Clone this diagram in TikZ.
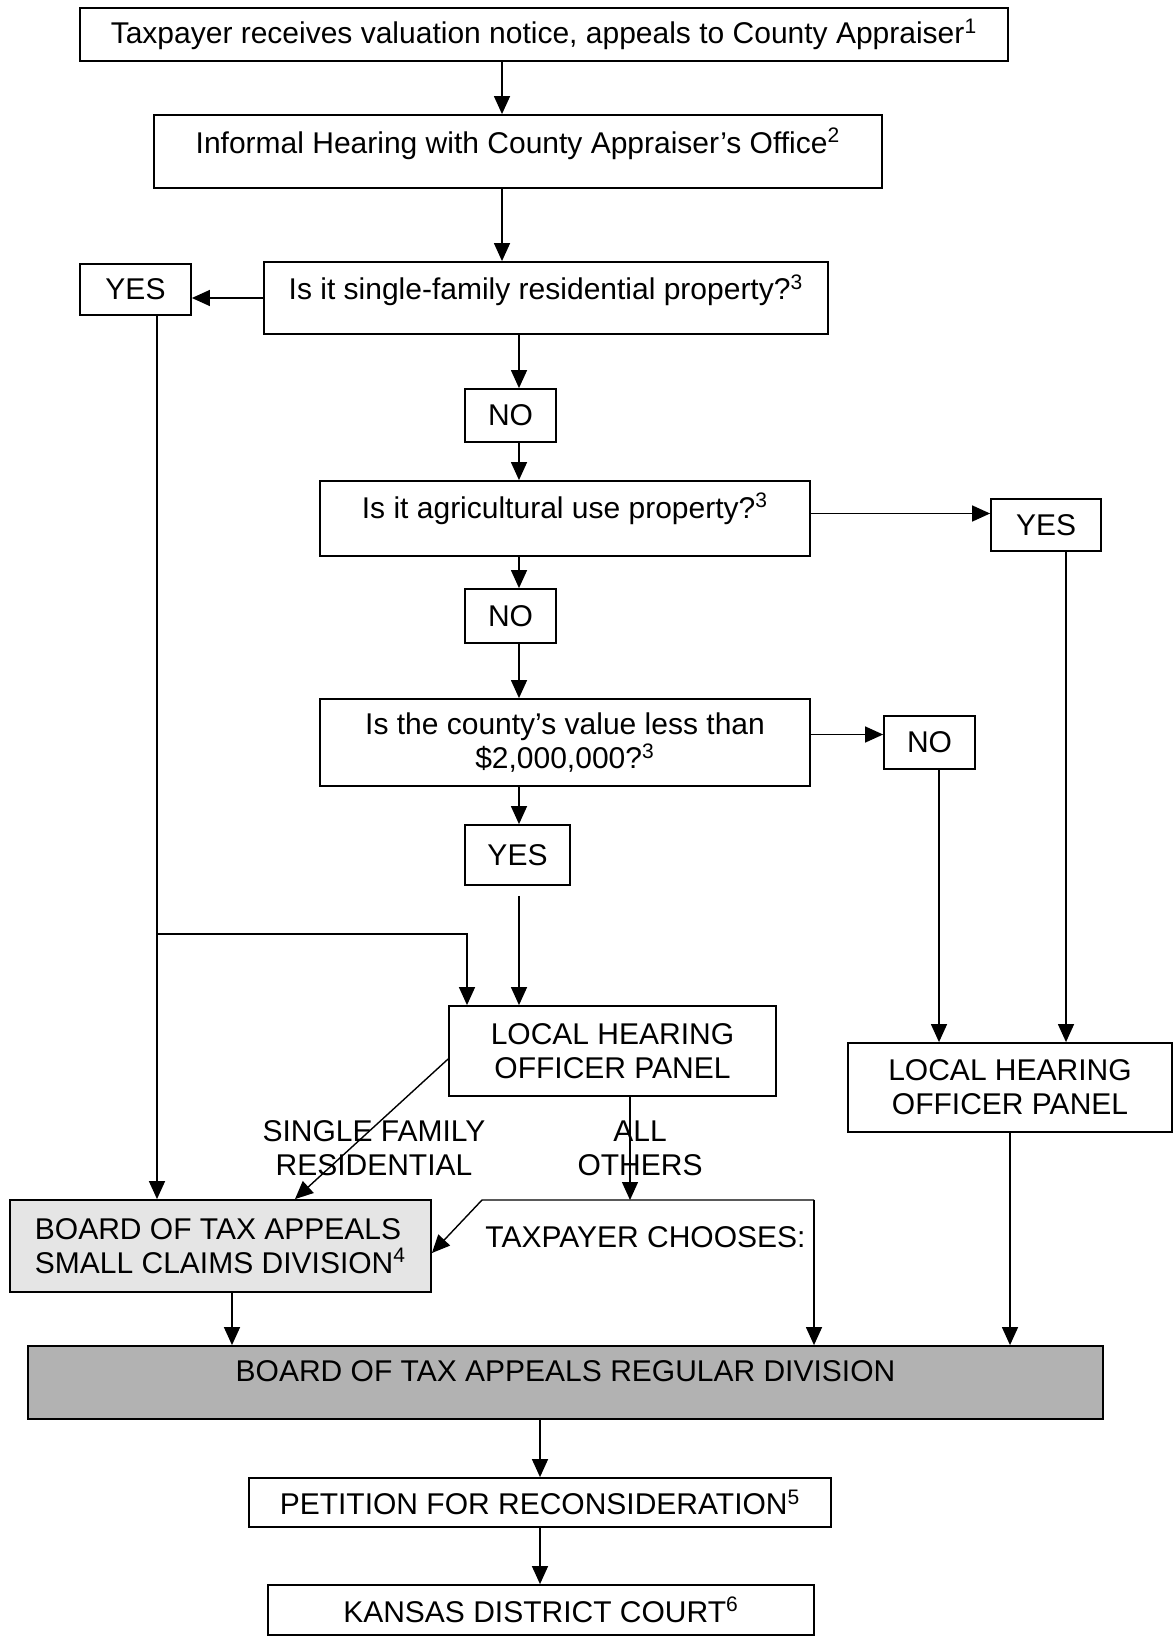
\documentclass[tikz,border=0pt]{standalone}
\usepackage{fontspec}
\setmainfont{Liberation Sans}
\usetikzlibrary{arrows.meta}

\begin{document}
\begin{tikzpicture}[x=0.5pt, y=-0.5pt,
    >={Triangle[length=9pt,width=8pt]},
    box/.style={draw, line width=0.9pt, inner sep=0pt, align=center, font=\fontsize{15}{17}\selectfont},
    raised/.style={text depth=11pt},
    conn/.style={line width=0.7pt, ->},
    lbl/.style={align=center, font=\fontsize{15}{17}\selectfont}]
    % Property valuation appeal route
    \useasboundingbox (0,0) rectangle (1173,1637);
    \node[box, minimum width=464pt, minimum height=26.5pt] (notice) at (544,34.5)
        {Taxpayer receives valuation notice, appeals to County Appraiser\textsuperscript{1}};
    \node[box, raised, minimum width=364pt, minimum height=36.5pt] (informal) at (518,151.5)
        {Informal Hearing with County Appraiser's Office\textsuperscript{2}};
    \node[box, raised, minimum width=282pt, minimum height=36pt] (single) at (546,298)
        {Is it single-family residential property?\textsuperscript{3}};
    \node[box, minimum width=55.5pt, minimum height=25.5pt] (yesA) at (135.5,289.5) {YES};
    \node[box, minimum width=45.5pt, minimum height=26.5pt] (noA) at (510.5,415.5) {NO};
    \node[box, text depth=13pt, minimum width=245pt, minimum height=37.5pt] (agri) at (565,518.5)
        {Is it agricultural use property?\textsuperscript{3}};
    \node[box, minimum width=55pt, minimum height=26pt] (yesB) at (1046,525) {YES};
    \node[box, minimum width=45.5pt, minimum height=27pt] (noB) at (510.5,616) {NO};
    \node[box, minimum width=245pt, minimum height=43.5pt] (value) at (565,742.5)
        {Is the county's value less than\\\$2,000,000?\textsuperscript{3}};
    \node[box, minimum width=45.5pt, minimum height=26.5pt] (noC) at (929.5,742.5) {NO};
    \node[box, minimum width=52.5pt, minimum height=30pt] (yesC) at (517.5,855) {YES};
    \node[box, minimum width=163.5pt, minimum height=45pt] (panelA) at (612.5,1051)
        {LOCAL HEARING\\OFFICER PANEL};
    \node[box, minimum width=162pt, minimum height=44.5pt] (panelB) at (1010,1087.5)
        {LOCAL HEARING\\OFFICER PANEL};
    \node[box, fill=gray!20, align=left, minimum width=210.5pt, minimum height=46pt] (small) at (220.5,1246)
        {BOARD OF TAX APPEALS\\SMALL CLAIMS DIVISION\textsuperscript{4}};
    \node[box, raised, fill=gray!60, minimum width=537.5pt, minimum height=36.5pt] (regular) at (565.5,1382.5)
        {BOARD OF TAX APPEALS REGULAR DIVISION};
    \node[box, minimum width=291pt, minimum height=24.5pt] (petition) at (540,1502.5)
        {PETITION FOR RECONSIDERATION\textsuperscript{5}};
    \node[box, minimum width=273pt, minimum height=25pt] (court) at (541,1610)
        {KANSAS DISTRICT COURT\textsuperscript{6}};

    \node[lbl] (sfr) at (374,1148) {SINGLE FAMILY\\RESIDENTIAL};
    \node[lbl] (allo) at (640,1148) {ALL\\OTHERS};
    \node[lbl] (chooses) at (645.5,1237) {TAXPAYER CHOOSES:};

    \coordinate (colA) at (502,0);
    \coordinate (colB) at (519,0);
    \coordinate (colC) at (939,0);
    \coordinate (colD) at (1066,0);
    \coordinate (colE) at (295,0);
    \coordinate (colF) at (630,0);
    \coordinate (colG) at (232,0);
    \coordinate (dropA) at (467,0);
    \coordinate (fork) at (157,934);
    \coordinate (choiceL) at (482,1200);
    \coordinate (choiceR) at (814,1200);

    \draw[conn] (notice.south -| colA) -- (informal.north -| colA);
    \draw[conn] (informal.south -| colA) -- (single.north -| colA);
    \draw[conn] (single.west) -- (single.west -| yesA.east);
    \foreach \a/\b in {single/noA, noA/agri, agri/noB, noB/value, value/yesC}
        \draw[conn] (\a.south -| colB) -- (\b.north -| colB);
    \draw[conn, shorten <=5pt] (yesC.south -| colB) -- (panelA.north -| colB);
    \draw[conn] ([yshift=2.5pt]agri.east) -- ([yshift=2.5pt]agri.east -| yesB.west);
    \draw[conn] ([yshift=4pt]value.east) -- ([yshift=4pt]value.east -| noC.west);

    \draw[conn] (yesA.south -| fork) -- (small.north -| fork);
    \draw[conn] (fork) -| (panelA.north -| dropA);
    \draw[conn] (noC.south -| colC) -- (panelB.north -| colC);
    \draw[conn] (yesB.south -| colD) -- (panelB.north -| colD);

    \draw[conn] ([yshift=-4pt]panelA.west) -- (small.north -| colE);
    \draw[conn] (panelA.south -| colF) -- (choiceL -| colF);
    \draw[conn] (choiceR) -- (choiceL) -- ([yshift=-3.5pt]small.east);
    \draw[conn] (choiceR) -- (choiceR |- regular.north);
    \draw[conn] (small.south -| colG) -- (regular.north -| colG);
    \draw[conn] (panelB.south) -- (panelB.south |- regular.north);

    \draw[conn] (regular.south -| petition.north) -- (petition.north);
    \draw[conn] (petition.south) -- (petition.south |- court.north);
\end{tikzpicture}
\end{document}
